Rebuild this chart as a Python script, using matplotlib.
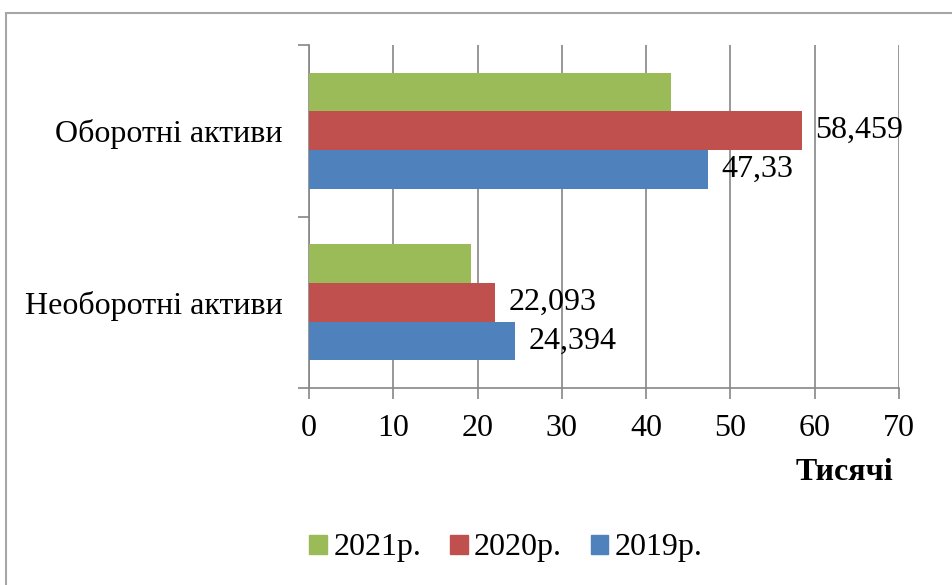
import matplotlib
matplotlib.use("Agg")
import matplotlib.pyplot as plt
from matplotlib.patches import Rectangle, Patch
import numpy as np

plt.rcParams['font.family'] = ['Liberation Serif', 'DejaVu Serif']

categories = ["Необоротні активи", "Оборотні активи"]
series_names = ["2019р.", "2020р.", "2021р."]
values_2019 = [24.394, 47.33]
values_2020 = [22.093, 58.459]
values_2021 = [19.17, 43.0]
labels_2019 = ["24,394", "47,33"]
labels_2020 = ["22,093", "58,459"]
x_ticks = [0, 10, 20, 30, 40, 50, 60, 70]
x_label = "Тисячі"

colors = {"2019р.": "#4F81BD", "2020р.": "#C0504D", "2021р.": "#9BBB59"}
grey = "#868686"
FS = 23

fig = plt.figure(figsize=(9.53, 5.85), dpi=100)
fig.patches.append(Rectangle((6/953, -0.1), 1.2, 1 - 13/585 + 0.1,
                             transform=fig.transFigure, fill=False,
                             edgecolor="#A6A6A6", linewidth=1.5, zorder=0))

ax = fig.add_axes([309/953, 1 - 388/585, (899 - 309)/953, (388 - 45)/585])

y = np.arange(len(categories))
h = 0.226
ax.barh(y - h, values_2019, height=h, color=colors["2019р."], zorder=3)
ax.barh(y, values_2020, height=h, color=colors["2020р."], zorder=3)
ax.barh(y + h, values_2021, height=h, color=colors["2021р."], zorder=3)

for yi, v, lab in zip(y, values_2019, labels_2019):
    ax.annotate(lab, (v, yi - h), xytext=(10, 0), textcoords="offset points",
                va="center", ha="left", fontsize=FS, zorder=4)
for yi, v, lab in zip(y, values_2020, labels_2020):
    ax.annotate(lab, (v, yi), xytext=(10, 0), textcoords="offset points",
                va="center", ha="left", fontsize=FS, zorder=4)

ax.set_xlim(0, 70)
ax.set_ylim(-0.5, 1.5)
ax.set_xticks(x_ticks)
ax.set_xticklabels([str(t) for t in x_ticks], fontsize=FS)
ax.set_yticks([-0.5, 0.5, 1.5])
ax.set_yticklabels([])
ax.set_yticks(y, minor=True)
ax.set_yticklabels(categories, minor=True, fontsize=FS)
ax.tick_params(axis="y", which="minor", length=0, pad=19)
ax.tick_params(axis="y", which="major", length=8, color=grey, width=1.2)
ax.tick_params(axis="x", length=8, color=grey, width=1.2, pad=11)

ax.grid(axis="x", color=grey, linewidth=1.2, zorder=0)
for s in ["top", "right"]:
    ax.spines[s].set_visible(False)
for s in ["left", "bottom"]:
    ax.spines[s].set_color(grey)
    ax.spines[s].set_linewidth(1.2)

fig.text(893/953, 1 - 472/585, x_label, ha="right", va="center",
         fontsize=FS, fontweight="bold")

handles = [Patch(color=colors[n]) for n in ["2021р.", "2020р.", "2019р."]]
fig.legend(handles, ["2021р.", "2020р.", "2019р."], loc="center",
           bbox_to_anchor=(506/953, 1 - 548/585), ncol=3, frameon=False,
           fontsize=FS, handlelength=0.55, handleheight=0.55,
           handletextpad=0.2, columnspacing=0.9)

fig.savefig("out.png", dpi=100)
